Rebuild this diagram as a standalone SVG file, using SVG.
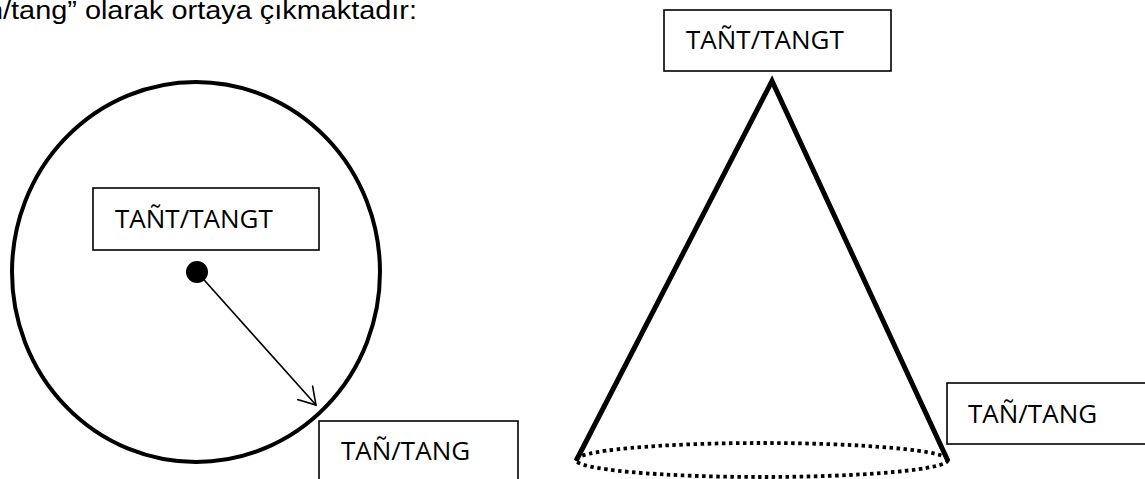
<svg xmlns="http://www.w3.org/2000/svg" width="1145" height="479" viewBox="0 0 1145 479">
<style>
.box{fill:#fff;stroke:#000;stroke-width:1.6}
.lbl{font-family:"Open Sans","Noto Sans",sans-serif;font-size:26px;fill:#000}
.thick{fill:none;stroke:#000;stroke-width:5;stroke-linecap:butt}
</style>
<defs>
<marker id="openArrow" markerWidth="22" markerHeight="22" refX="17" refY="10.5" orient="auto" markerUnits="userSpaceOnUse">
<path d="M0,0 L17,10.5 L0,21" fill="none" stroke="#000" stroke-width="1.6"/>
</marker>
</defs>
<rect width="1145" height="479" fill="#fff"/>
<text x="-13" y="19" font-family="'Liberation Sans',Arial,sans-serif" font-size="26" textLength="430" lengthAdjust="spacingAndGlyphs">n/tang” olarak ortaya çıkmaktadır:</text>
<g id="circle">
<ellipse cx="196" cy="272" rx="184" ry="190" fill="none" stroke="#000" stroke-width="4"/>
</g>
<g id="cone">
<path class="thick" d="M576,461 L772,81 L948,461"/>
<ellipse cx="762" cy="460" rx="186" ry="17" fill="none" stroke="#000" stroke-width="3.8" stroke-dasharray="3.5 3.5"/>
</g>
<g id="center-dot">
<circle cx="197" cy="272" r="11" fill="#000"/>
</g>
<g id="connectors">
<line x1="197" y1="272" x2="316" y2="405" stroke="#000" stroke-width="1.6" marker-end="url(#openArrow)"/>
</g>
<g id="node-circle-center">
<rect class="box" x="93" y="188" width="226" height="62"/>
<text class="lbl" x="115" y="228">TAÑT/TANGT</text>
</g>
<g id="node-circle-edge">
<rect class="box" x="319" y="421" width="199" height="70"/>
<text class="lbl" x="341" y="460">TAÑ/TANG</text>
</g>
<g id="node-cone-apex">
<rect class="box" x="664" y="10" width="227" height="61"/>
<text class="lbl" x="686" y="49">TAÑT/TANGT</text>
</g>
<g id="node-cone-base">
<rect class="box" x="947" y="383" width="205" height="61"/>
<text class="lbl" x="968" y="423">TAÑ/TANG</text>
</g>
</svg>
